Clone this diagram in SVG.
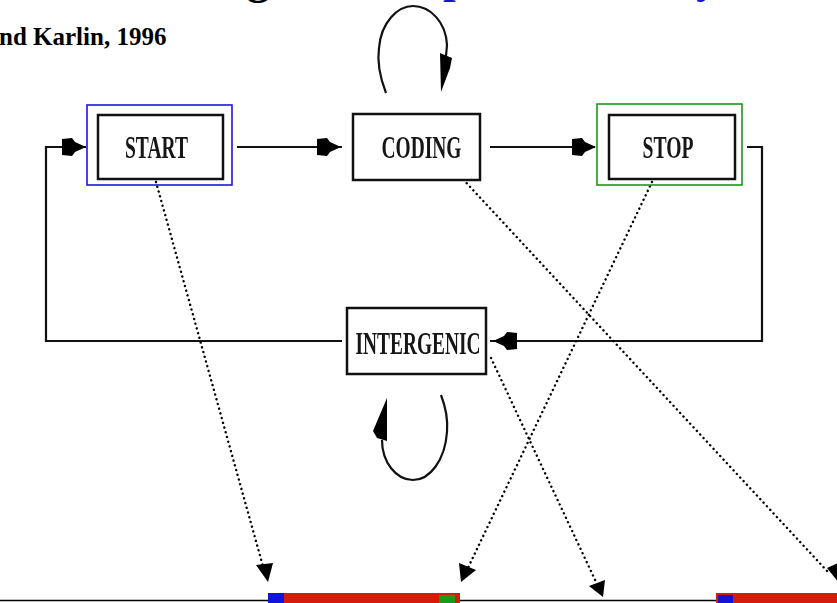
<svg xmlns="http://www.w3.org/2000/svg" width="837" height="603" viewBox="0 0 837 603">
  <style>
    .state { fill: #fff; stroke: #111; stroke-width: 2.5; }
    .label { font-family: "Liberation Serif", "Times New Roman", serif; font-weight: bold; font-size: 31px; fill: #151515; text-anchor: middle; filter: url(#soft); }
    .wire { fill: none; stroke: #111; stroke-width: 2.2; }
    .dots { fill: none; stroke: #000; stroke-width: 2.4; stroke-dasharray: 0.1 4.8; stroke-linecap: round; }
    .head { fill: #000; }
    .cite { font-family: "Liberation Serif", "Times New Roman", serif; font-weight: bold; font-size: 25px; fill: #000; }
  </style>
  <defs>
    <filter id="soft" x="-5%" y="-20%" width="110%" height="140%">
      <feGaussianBlur stdDeviation="0.5"/>
    </filter>
    <!-- blocky arrowhead pointing right, tip at origin -->
    <path id="arrowR" d="M1,0 L-10,-5 L-13,-9 L-23,-8 L-23,8 L-13,9 L-10,5 Z"/>
  </defs>

  <rect width="837" height="603" fill="#fff"/>

  <!-- heading line, mostly above the top edge -->
  <text x="247" y="-6" font-family="Liberation Serif, serif" font-weight="bold" font-size="45" fill="#000">g</text>
  <text y="-7" font-family="Liberation Serif, serif" font-weight="bold" font-size="45" fill="#1414d8"><tspan x="443">p</tspan><tspan x="696">y</tspan></text>

  <text class="cite" x="-1" y="45">nd Karlin, 1996</text>

  <!-- state transitions -->
  <g id="connectors">
    <!-- INTERGENIC -> START (left return) -->
    <polyline class="wire" points="342,341 46,341 46,147 86,147"/>
    <use href="#arrowR" class="head" transform="translate(85,147)"/>
    <!-- START -> CODING -->
    <line class="wire" x1="237" y1="147" x2="342" y2="147"/>
    <use href="#arrowR" class="head" transform="translate(340,147)"/>
    <!-- CODING -> STOP -->
    <line class="wire" x1="490" y1="147" x2="595" y2="147"/>
    <use href="#arrowR" class="head" transform="translate(595,147)"/>
    <!-- STOP -> INTERGENIC (right return) -->
    <polyline class="wire" points="747,147 762,147 762,341 490,341"/>
    <use href="#arrowR" class="head" transform="translate(494,341) scale(-1,1)"/>

    <!-- CODING self loop -->
    <path class="wire" stroke-width="1.8" d="M386,93 C381,80 377,62 379,48 C381,22 398,6 413,6 C430,6 446,22 447,45 L446,56"/>
    <polygon class="head" points="440,53 452,58 450,68 441,92"/>

    <!-- INTERGENIC self loop -->
    <path class="wire" stroke-width="1.8" d="M441,395 C446,408 448,420 447,432 C445,460 430,480 413,480 C396,480 382,462 382,440"/>
    <polygon class="head" points="387,398 387,441 377,438 373,431"/>

    <!-- state to sequence position mapping -->
    <line class="dots" x1="156" y1="182" x2="264" y2="570"/>
    <line class="dots" x1="652" y1="182" x2="467" y2="570"/>
    <line class="dots" x1="491" y1="358" x2="597" y2="584"/>
    <line class="dots" x1="460" y1="176" x2="828" y2="572"/>
    <polygon class="head" points="268,582 256,565 273,563"/>
    <polygon class="head" points="461,582 459,563 476,570"/>
    <polygon class="head" points="603,597 589,586 605,580"/>
    <polygon class="head" points="839,583 827,568 838,563"/>
  </g>

  <g id="start">
    <rect x="87" y="105" width="145" height="80" fill="none" stroke="#1a1ad8" stroke-width="1.6"/>
    <rect class="state" x="98" y="115" width="125" height="64"/>
    <text class="label" x="156.5" y="158" textLength="63" lengthAdjust="spacingAndGlyphs">START</text>
  </g>

  <g id="coding">
    <rect class="state" x="353" y="114" width="127" height="66"/>
    <text class="label" x="421.5" y="158" textLength="80" lengthAdjust="spacingAndGlyphs">CODING</text>
  </g>

  <g id="stop">
    <rect x="597" y="104" width="145" height="81" fill="none" stroke="#1a9a1a" stroke-width="1.6"/>
    <rect class="state" x="609" y="115" width="126" height="64"/>
    <text class="label" x="668" y="158" textLength="51" lengthAdjust="spacingAndGlyphs">STOP</text>
  </g>

  <g id="intergenic">
    <rect class="state" x="347" y="308" width="139" height="66"/>
    <text class="label" x="418" y="354" textLength="125" lengthAdjust="spacingAndGlyphs">INTERGENIC</text>
  </g>

  <!-- sequence track -->
  <g id="sequence">
    <line x1="0" y1="600.5" x2="837" y2="600.5" stroke="#000" stroke-width="1.5"/>
    <rect x="268" y="593" width="192" height="10" fill="#d81a0a"/>
    <rect x="268" y="593" width="16" height="10" fill="#1414d8"/>
    <rect x="439" y="595" width="16" height="8" fill="#1a9a1a"/>
    <rect x="716" y="593" width="121" height="10" fill="#d81a0a"/>
    <rect x="718" y="595" width="15" height="8" fill="#1414d8"/>
  </g>
</svg>
